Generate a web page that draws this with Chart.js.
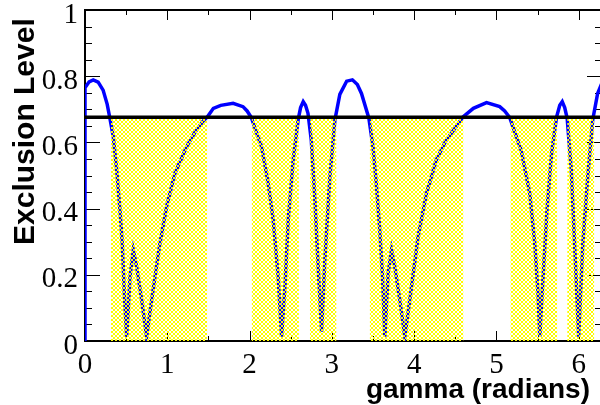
<!DOCTYPE html>
<html>
<head>
<meta charset="utf-8">
<script src="https://cdn.jsdelivr.net/npm/chart.js@4.4.1/dist/chart.umd.min.js"></script>
<style>
    html, body { margin: 0; padding: 0; overflow: hidden; background: #fff; }
    #wrap { width: 603px; height: 405px; }
</style>
</head>
<body>
<div id="wrap"><canvas id="chart"></canvas></div>
<script>
// Scan of exclusion level vs gamma
const gammaValues = [
    0, 0, 0.05, 0.10, 0.16, 0.22, 0.27, 0.30, 0.344, 0.385, 0.425, 0.453, 0.478, 0.506,
    0.527, 0.547, 0.587, 0.628, 0.689, 0.749, 0.810, 0.860, 0.911, 0.992, 1.093, 1.235,
    1.34, 1.437, 1.49, 1.56, 1.65, 1.80, 1.92, 1.97, 2.02, 2.146, 2.227, 2.287, 2.348,
    2.389, 2.43, 2.47, 2.53, 2.59, 2.62, 2.652, 2.68, 2.71, 2.75, 2.79, 2.83, 2.875,
    2.915, 2.976, 3.037, 3.097, 3.18, 3.25, 3.31, 3.36, 3.45, 3.50, 3.54, 3.58, 3.616,
    3.644, 3.684, 3.725, 3.765, 3.826, 3.887, 3.947, 4.048, 4.15, 4.27, 4.39, 4.51,
    4.59, 4.72, 4.88, 5.04, 5.10, 5.16, 5.30, 5.405, 5.466, 5.506, 5.527, 5.567, 5.615,
    5.67, 5.73, 5.77, 5.80, 5.83, 5.86, 5.91, 5.95, 6.00, 6.05, 6.11, 6.17, 6.23, 6.283
];
const exclusionValues = [
    0, 0.765, 0.783, 0.789, 0.782, 0.758, 0.715, 0.676, 0.617, 0.517, 0.396, 0.295, 0.144, 0.013,
    0.10, 0.194, 0.275, 0.224, 0.124, 0.013, 0.124, 0.21, 0.295, 0.406, 0.507, 0.587,
    0.632, 0.665, 0.678, 0.703, 0.712, 0.718, 0.708, 0.695, 0.676, 0.587, 0.476, 0.366, 0.194,
    0.013, 0.164, 0.366, 0.547, 0.668, 0.705, 0.723, 0.712, 0.688, 0.607, 0.446, 0.245, 0.028,
    0.245, 0.496, 0.668, 0.745, 0.785, 0.789, 0.775, 0.748, 0.673, 0.587, 0.476, 0.345, 0.194,
    0.013, 0.204, 0.275, 0.224, 0.124, 0.013, 0.124, 0.315, 0.446, 0.547, 0.607, 0.647,
    0.676, 0.703, 0.720, 0.708, 0.695, 0.676, 0.577, 0.446, 0.295, 0.144, 0.013, 0.194, 0.396,
    0.567, 0.676, 0.712, 0.723, 0.705, 0.673, 0.517, 0.295, 0.013, 0.295, 0.496, 0.668, 0.748, 0.78
];

// Exclusion threshold and the excluded gamma ranges (hatched)
const thresholdLevel = 0.676;
const bandStart = [0.316, 2.025, 2.733, 3.46, 5.17, 5.86];
const bandEnd = [1.486, 2.60, 3.057, 4.60, 5.74, 6.19];

// Axis tick labels
const xTickLabels = ['0', '1', '2', '3', '4', '5', '6'];
const yTickLabels = ['0', '0.2', '0.4', '0.6', '0.8', '1'];
const X_MAX = 2 * Math.PI;

const SERIF = '"Liberation Serif", "Times New Roman", Times, serif';
const SANS = '"Liberation Sans", Arial, Helvetica, sans-serif';

// Yellow cross hatch like ROOT fill style
function makeHatch() {
    const c = document.createElement('canvas');
    c.width = 4; c.height = 4;
    const g = c.getContext('2d');
    g.fillStyle = '#ffff00';
    for (let i = 0; i < 4; i++) {
        g.fillRect(i, i, 1, 1);
        g.fillRect(3 - i, i, 1, 1);
    }
    return g.createPattern(c, 'repeat');
}
const hatch = makeHatch();

const curve = gammaValues.map((g, i) => ({ x: g, y: exclusionValues[i] }));

const datasets = [{
    data: [{ x: 0, y: thresholdLevel }, { x: X_MAX, y: thresholdLevel }],
    borderColor: '#000',
    borderWidth: 3.5,
    pointRadius: 0
}];
bandStart.forEach((s, i) => {
    datasets.push({
        data: [{ x: s, y: thresholdLevel }, { x: bandEnd[i], y: thresholdLevel }],
        borderWidth: 0,
        borderColor: 'rgba(0,0,0,0)',
        backgroundColor: hatch,
        fill: 'origin',
        pointRadius: 0
    });
});
datasets.push({
    data: curve,
    borderColor: '#0000ff',
    borderWidth: 3.5,
    pointRadius: 0,
    tension: 0
});

// ROOT-style frame with inward ticks, plus labels and titles
const frameAxes = {
    id: 'frameAxes',
    beforeDatasetsDraw(chart) {
        const { ctx, chartArea: a, scales: { x, y } } = chart;
        ctx.save();
        ctx.strokeStyle = '#000';
        ctx.lineWidth = 1;
        ctx.beginPath();
        for (let i = 0; i * 0.5 <= X_MAX; i++) {
            const px = Math.round(x.getPixelForValue(i * 0.5)) + 0.5;
            const len = i % 2 === 0 ? 10 : 5;
            ctx.moveTo(px, a.bottom); ctx.lineTo(px, a.bottom - len);
            ctx.moveTo(px, a.top); ctx.lineTo(px, a.top + len);
        }
        for (let i = 0; i <= 20; i++) {
            const py = Math.round(y.getPixelForValue(i * 0.05)) + 0.5;
            const len = i % 4 === 0 ? 15 : 7;
            ctx.moveTo(a.left, py); ctx.lineTo(a.left + len, py);
            ctx.moveTo(a.right, py); ctx.lineTo(a.right - len, py);
        }
        ctx.stroke();
        ctx.lineWidth = 2;
        ctx.strokeRect(a.left, a.top, a.right - a.left, a.bottom - a.top);
        ctx.restore();
    },
    afterDraw(chart) {
        const { ctx, chartArea: a, scales: { x, y } } = chart;
        ctx.save();
        ctx.fillStyle = '#000';
        ctx.font = '29px ' + SERIF;
        ctx.textBaseline = 'alphabetic';
        ctx.textAlign = 'center';
        xTickLabels.forEach(t => ctx.fillText(t, x.getPixelForValue(+t), a.bottom + 32));
        ctx.textAlign = 'right';
        yTickLabels.forEach(t => ctx.fillText(t, a.left - 7, y.getPixelForValue(+t) + 12.5));

        ctx.font = 'bold 28px ' + SANS;
        ctx.textAlign = 'right';
        ctx.fillText('gamma (radians)', 590, 398);

        ctx.font = 'bold 30px ' + SANS;
        ctx.translate(34, 245);
        ctx.rotate(-Math.PI / 2);
        ctx.textAlign = 'left';
        ctx.fillText('Exclusion Level', 0, 0);
        ctx.restore();
    }
};

new Chart(document.getElementById('chart'), {
    type: 'scatter',
    data: { datasets },
    options: {
        responsive: true,
        maintainAspectRatio: false,
        animation: false,
        showLine: true,
        layout: { padding: { left: 85, top: 10, right: 1, bottom: 64 } },
        plugins: { legend: { display: false }, tooltip: { enabled: false } },
        scales: {
            x: {
                type: 'linear', min: 0, max: X_MAX,
                grid: { display: false, drawTicks: false },
                border: { display: false },
                ticks: { display: false }
            },
            y: {
                type: 'linear', min: 0, max: 1,
                grid: { display: false, drawTicks: false },
                border: { display: false },
                ticks: { display: false }
            }
        }
    },
    plugins: [frameAxes]
});
</script>
</body>
</html>
